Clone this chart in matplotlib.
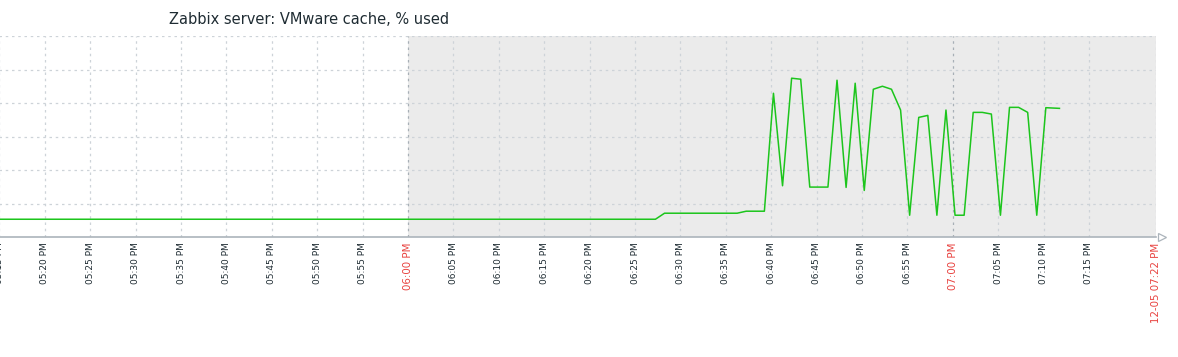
import pandas as pd
import matplotlib
matplotlib.use("Agg")
import matplotlib.pyplot as plt

# ---------- data (% used) ----------
times = ["17:14:00", "18:27:15", "18:28:15", "18:36:15", "18:37:15", "18:39:15",
         "18:40:15", "18:41:15", "18:42:15", "18:43:15", "18:44:15", "18:46:15",
         "18:47:15", "18:48:15", "18:49:15", "18:50:15", "18:51:15", "18:52:15",
         "18:53:15", "18:54:15", "18:55:15", "18:56:15", "18:57:15", "18:58:15",
         "18:59:15", "19:00:15", "19:01:15", "19:02:15", "19:03:15", "19:04:15",
         "19:05:15", "19:06:15", "19:07:15", "19:08:15", "19:09:15", "19:10:15",
         "19:11:45"]
values = [0.53, 0.53, 0.71, 0.71, 0.77, 0.77,
          4.29, 1.53, 4.74, 4.71, 1.49, 1.49,
          4.68, 1.48, 4.59, 1.39, 4.41, 4.50,
          4.41, 3.79, 0.65, 3.57, 3.63, 0.65,
          3.79, 0.65, 0.65, 3.72, 3.72, 3.67,
          0.65, 3.87, 3.87, 3.72, 0.65, 3.86,
          3.84]

day = "2023-12-05 "
t = pd.to_datetime([day + s for s in times], format="%Y-%m-%d %H:%M:%S")

tick_times = pd.date_range(day + "17:15", day + "19:15", freq="5min")
red_ticks = [day + "18:00", day + "19:00"]
end_label = "12-05 07:22 PM"

x_start = pd.Timestamp(day + "17:14:57")
x_end = pd.Timestamp(day + "19:22:23")
shade_from = pd.Timestamp(day + "18:00")

# ---------- colours ----------
line_c = "#1cc51c"
grid_c = "#cdd3d8"
dark_grid_c = "#a7afb6"
axis_c = "#acb4bb"
text_c = "#1f2c33"
red_c = "#e8423f"

# ---------- figure ----------
fig = plt.figure(figsize=(11.78, 3.57), dpi=100)
ax = fig.add_axes([-1 / 1178, 1 - 237 / 357, 1157 / 1178, 201 / 357])

ax.axvspan(shade_from, x_end, color="#ebebeb", lw=0, zorder=0)

ax.set_xlim(x_start, x_end)
ax.set_ylim(0, 6)

# grid
for yv in range(1, 7):
    ax.axhline(yv, color=grid_c, lw=0.9, ls=(0, (2, 3)), zorder=1)
for tt in tick_times:
    is_hour = tt.minute == 0
    ax.axvline(tt, color=dark_grid_c if is_hour else grid_c, lw=0.9,
               ls=(0, (2, 3)), zorder=1)
ax.axvline(x_end, color=grid_c, lw=0.9, ls=(0, (2, 3)), zorder=1)

ax.plot(t, values, color=line_c, lw=1.1, zorder=3)

# axes frame
for side in ["top", "right", "left"]:
    ax.spines[side].set_visible(False)
ax.spines["bottom"].set_color(axis_c)
ax.spines["bottom"].set_linewidth(1.2)
ax.set_yticks([])

# x tick labels
all_ticks = list(tick_times) + [x_end]
ax.set_xticks(all_ticks)
labels = [tt.strftime("%I:%M %p") for tt in tick_times] + [end_label]
ax.set_xticklabels(labels, rotation=90, va="top", ha="center")
ax.tick_params(axis="x", length=0, pad=4, labelsize=6.5, labelcolor=text_c)
red_set = set(pd.to_datetime(red_ticks))
for lab, tt in zip(ax.get_xticklabels(), all_ticks):
    if tt in red_set or tt == x_end:
        lab.set_color(red_c)
        lab.set_fontsize(7.4)

# arrow at end of axis
ax.plot([x_end + pd.Timedelta(seconds=40)], [0], marker=">", ms=6,
        mfc="white", mec=axis_c, mew=0.9, clip_on=False, zorder=4)

fig.text(309.5 / 1178, 1 - 19 / 357, "Zabbix server: VMware cache, % used",
         ha="center", va="center", fontsize=10.5, color=text_c)

fig.savefig("out.png", dpi=100)
